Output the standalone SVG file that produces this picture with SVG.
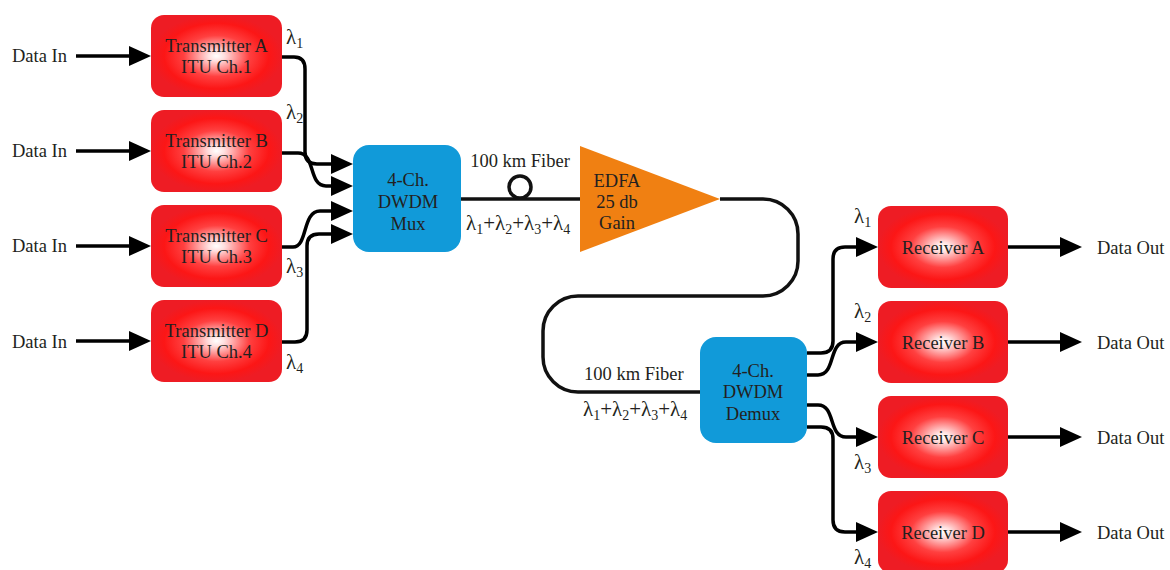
<svg xmlns="http://www.w3.org/2000/svg" width="1170" height="570" viewBox="0 0 1170 570">
<defs>
<radialGradient id="redg" cx="0.5" cy="0.5" r="0.5">
<stop offset="0" stop-color="#ffffff"/>
<stop offset="0.12" stop-color="#ffe0e0"/>
<stop offset="0.5" stop-color="#ff4040"/>
<stop offset="0.8" stop-color="#fc1616"/>
<stop offset="1" stop-color="#ee1c24"/>
</radialGradient>
<marker id="ah" markerUnits="userSpaceOnUse" markerWidth="24" markerHeight="22" refX="2" refY="10" orient="auto">
<path d="M0,0 L22,10 L0,20 z" fill="#000"/>
</marker>
</defs>
<style>
text{font-family:"Liberation Serif","DejaVu Serif",serif;font-size:18.5px;fill:#231f20}
.c{text-anchor:middle}
.red{fill:url(#redg)}
.blue{fill:#119ad9}
.ln{fill:none;stroke:#000;stroke-width:3.5}
.ar{fill:none;stroke:#000;stroke-width:3.5;marker-end:url(#ah)}
.fb{fill:none;stroke:#111;stroke-width:3.5}
.l{font-size:21px}
.s{font-size:14px}
</style>

<g id="labels-in">
<text x="12" y="62">Data In</text>
<text x="12" y="157">Data In</text>
<text x="12" y="252">Data In</text>
<text x="12" y="348">Data In</text>
</g>

<g id="txA"><rect class="red" x="151" y="15" width="131" height="82" rx="13"/>
<text class="c" x="216.5" y="52">Transmitter A</text><text class="c" x="216.5" y="73">ITU Ch.1</text></g>
<g id="txB"><rect class="red" x="151" y="110" width="131" height="82" rx="13"/>
<text class="c" x="216.5" y="147">Transmitter B</text><text class="c" x="216.5" y="168">ITU Ch.2</text></g>
<g id="txC"><rect class="red" x="151" y="205" width="131" height="82" rx="13"/>
<text class="c" x="216.5" y="242">Transmitter C</text><text class="c" x="216.5" y="263">ITU Ch.3</text></g>
<g id="txD"><rect class="red" x="151" y="300" width="131" height="82" rx="13"/>
<text class="c" x="216.5" y="337">Transmitter D</text><text class="c" x="216.5" y="358">ITU Ch.4</text></g>

<g id="mux"><rect class="blue" x="353" y="145" width="108" height="107" rx="16"/>
<text class="c" x="408" y="186">4-Ch.</text><text class="c" x="408" y="208">DWDM</text><text class="c" x="408" y="230">Mux</text></g>

<g id="edfa"><polygon points="580,146 580,252 720,199" fill="#f08012"/>
<text class="c" x="617" y="187">EDFA</text><text class="c" x="617" y="208">25 db</text><text class="c" x="617" y="229">Gain</text></g>

<g id="demux"><rect class="blue" x="700" y="337" width="107" height="106" rx="16"/>
<text class="c" x="753" y="377">4-Ch.</text><text class="c" x="753" y="398">DWDM</text><text class="c" x="753" y="420">Demux</text></g>

<g id="rxA"><rect class="red" x="878" y="206" width="130" height="82" rx="13"/><text class="c" x="943" y="254">Receiver A</text></g>
<g id="rxB"><rect class="red" x="878" y="301" width="130" height="82" rx="13"/><text class="c" x="943" y="349">Receiver B</text></g>
<g id="rxC"><rect class="red" x="878" y="396" width="130" height="82" rx="13"/><text class="c" x="943" y="444">Receiver C</text></g>
<g id="rxD"><rect class="red" x="878" y="491" width="130" height="82" rx="13"/><text class="c" x="943" y="539">Receiver D</text></g>

<g id="connectors">
<path class="ar" d="M76,56 H131"/>
<path class="ar" d="M76,151 H131"/>
<path class="ar" d="M76,246 H131"/>
<path class="ar" d="M76,341 H131"/>
<path class="ar" d="M282,57 H294 Q305,57 305,69 V152 Q305,164 317,164 H333"/>
<path class="ar" d="M282,153 H298 C316,153 308,186 326,186 H333"/>
<path class="ar" d="M282,247 H293 C308,247 302,211 320,211 H333"/>
<path class="ar" d="M282,342 H295 Q307,342 307,330 V246 Q307,234 319,234 H333"/>
<path class="fb" d="M461,199 H580"/>
<circle class="fb" cx="520" cy="187" r="11"/>
<path class="fb" d="M720,199 H763 A35,35 0 0 1 798,234 V261 A35,35 0 0 1 763,296 H578 A35,35 0 0 0 543,331 V357 A35,35 0 0 0 578,392 H700"/>
<path class="ar" d="M807,353 H821 Q833,353 833,341 V259 Q833,247 845,247 H858"/>
<path class="ar" d="M807,375 H818 C836,375 828,342 846,342 H858"/>
<path class="ar" d="M807,405 H818 C836,405 828,437 846,437 H858"/>
<path class="ar" d="M807,427 H821 Q833,427 833,439 V520 Q833,532 845,532 H858"/>
<path class="ar" d="M1008,247 H1062"/>
<path class="ar" d="M1008,342 H1062"/>
<path class="ar" d="M1008,437 H1062"/>
<path class="ar" d="M1008,532 H1062"/>
</g>

<g id="labels">
<text class="c" x="520" y="167">100 km Fiber</text>
<text class="l" x="466" y="230">λ<tspan class="s" dy="4">1</tspan><tspan dy="-4">+λ</tspan><tspan class="s" dy="4">2</tspan><tspan dy="-4">+λ</tspan><tspan class="s" dy="4">3</tspan><tspan dy="-4">+λ</tspan><tspan class="s" dy="4">4</tspan></text>
<text x="584" y="380">100 km Fiber</text>
<text class="l" x="583" y="416">λ<tspan class="s" dy="4">1</tspan><tspan dy="-4">+λ</tspan><tspan class="s" dy="4">2</tspan><tspan dy="-4">+λ</tspan><tspan class="s" dy="4">3</tspan><tspan dy="-4">+λ</tspan><tspan class="s" dy="4">4</tspan></text>
<text class="l" x="286" y="44">λ<tspan class="s" dy="4">1</tspan></text>
<text class="l" x="286" y="119">λ<tspan class="s" dy="4">2</tspan></text>
<text class="l" x="286" y="273">λ<tspan class="s" dy="4">3</tspan></text>
<text class="l" x="286" y="369">λ<tspan class="s" dy="4">4</tspan></text>
<text class="l" x="854" y="223">λ<tspan class="s" dy="4">1</tspan></text>
<text class="l" x="854" y="318">λ<tspan class="s" dy="4">2</tspan></text>
<text class="l" x="854" y="469">λ<tspan class="s" dy="4">3</tspan></text>
<text class="l" x="854" y="564">λ<tspan class="s" dy="4">4</tspan></text>
<text x="1097" y="254">Data Out</text>
<text x="1097" y="349">Data Out</text>
<text x="1097" y="444">Data Out</text>
<text x="1097" y="539">Data Out</text>
</g>
</svg>
